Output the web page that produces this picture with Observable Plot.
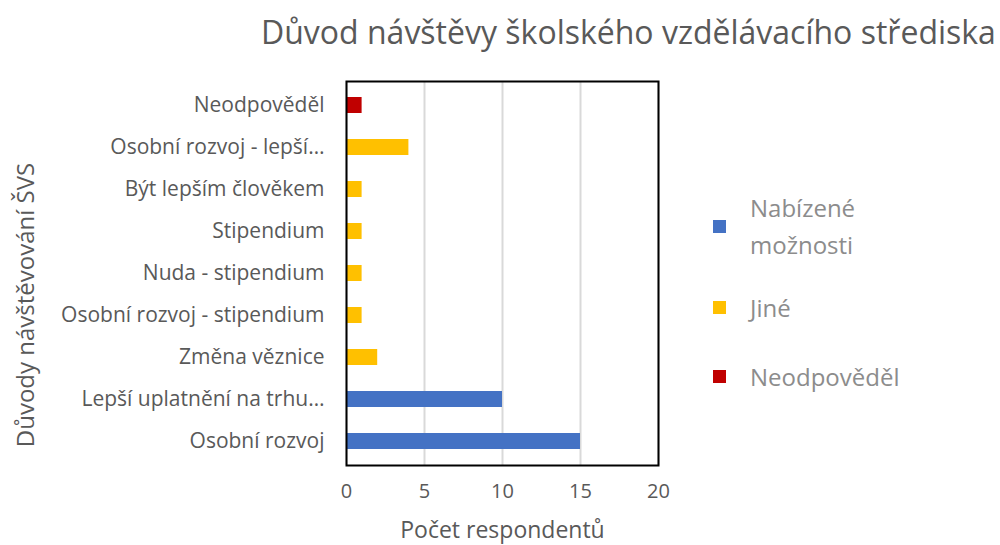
<!DOCTYPE html>
<html>
<head>
<meta charset="utf-8">
<script src="https://cdn.jsdelivr.net/npm/d3@7"></script>
<script src="https://cdn.jsdelivr.net/npm/@observablehq/plot@0.6"></script>
<style>
  html, body { margin: 0; padding: 0; background: #fff; }
  #wrap { position: relative; width: 1000px; height: 545px; font-family: "Open Sans", "Noto Sans", sans-serif; }
  #title { position: absolute; left: 0; width: 1000px; top: 10px; padding-left: 261px; box-sizing: border-box; font-size: 32px; line-height: 44px; color: #595959; white-space: nowrap; }
  #ylabel { position: absolute; left: 24px; top: 305px; transform: translate(-50%, -50%) rotate(-90deg); font-size: 24px; color: #595959; white-space: nowrap; }
  #legend { position: absolute; left: 713px; top: 0; font-size: 24px; color: #8c8c8c; }
  .li { position: absolute; left: 0; display: flex; align-items: center; white-space: nowrap; }
  .sw { width: 13px; height: 13px; margin-right: 24px; flex: none; }
  .lt { line-height: 37px; }
  #chart { position: absolute; left: 0; top: 0; }
</style>
</head>
<body>
<div id="wrap">
  <div id="chart"></div>
  <div id="title"></div>
  <div id="ylabel"></div>
  <div id="legend"></div>
</div>
<script>
const titleText = "Důvod návštěvy školského vzdělávacího střediska";
const categories = [
  "Neodpověděl",
  "Osobní rozvoj - lepší…",
  "Být lepším člověkem",
  "Stipendium",
  "Nuda - stipendium",
  "Osobní rozvoj - stipendium",
  "Změna věznice",
  "Lepší uplatnění na trhu…",
  "Osobní rozvoj"
];
const values = [1, 4, 1, 1, 1, 1, 2, 10, 15];
const groups = ["Neodpověděl", "Jiné", "Jiné", "Jiné", "Jiné", "Jiné", "Jiné", "Nabízené možnosti", "Nabízené možnosti"];
const seriesNames = ["Nabízené možnosti", "Jiné", "Neodpověděl"];
const seriesColors = ["#4472c4", "#ffc000", "#c00000"];
const xTicks = [0, 5, 10, 15, 20];
const xLabel = "Počet respondentů";
const yLabel = "Důvody návštěvování ŠVS";

const data = categories.map((c, i) => ({category: c, value: values[i], group: groups[i]}));

document.getElementById("title").textContent = titleText;
document.getElementById("ylabel").textContent = yLabel;

const chart = Plot.plot({
  width: 1000,
  height: 545,
  marginLeft: 346,
  marginRight: 342,
  marginTop: 81,
  marginBottom: 80,
  style: {fontFamily: '"Open Sans", "Noto Sans", sans-serif', fontSize: "21px", color: "#595959", background: "transparent"},
  x: {domain: [0, 20], ticks: xTicks},
  y: {domain: categories, paddingInner: 0.62, paddingOuter: 0.34},
  color: {domain: seriesNames, range: seriesColors},
  marks: [
    Plot.gridX(xTicks, {stroke: "#d9d9d9", strokeOpacity: 1, strokeWidth: 2}),
    Plot.barX(data, {x: "value", y: "category", fill: "group"}),
    Plot.frame({stroke: "black", strokeWidth: 2}),
    Plot.axisX(xTicks, {tickSize: 0, tickPadding: 18, fontSize: 20, fill: "#595959", label: xLabel, labelAnchor: "center", labelArrow: "none", labelOffset: 72}),
    Plot.axisY({tickSize: 0, tickPadding: 22, fontSize: 21, fill: "#595959", label: null})
  ]
});
document.getElementById("chart").appendChild(chart);

chart.querySelectorAll("g[aria-label='x-axis label'] text").forEach(t => {
  t.setAttribute("font-size", "23");
});

const legend = document.getElementById("legend");
const legendTops = [189, 289, 358];
const legendTexts = [["Nabízené", "možnosti"], ["Jiné"], ["Neodpověděl"]];
seriesNames.forEach((s, i) => {
  const li = document.createElement("div");
  li.className = "li";
  li.style.top = legendTops[i] + "px";
  const sw = document.createElement("div");
  sw.className = "sw";
  sw.style.background = seriesColors[i];
  const lt = document.createElement("div");
  lt.className = "lt";
  lt.innerHTML = legendTexts[i].join("<br>");
  li.appendChild(sw);
  li.appendChild(lt);
  legend.appendChild(li);
});
</script>
</body>
</html>
